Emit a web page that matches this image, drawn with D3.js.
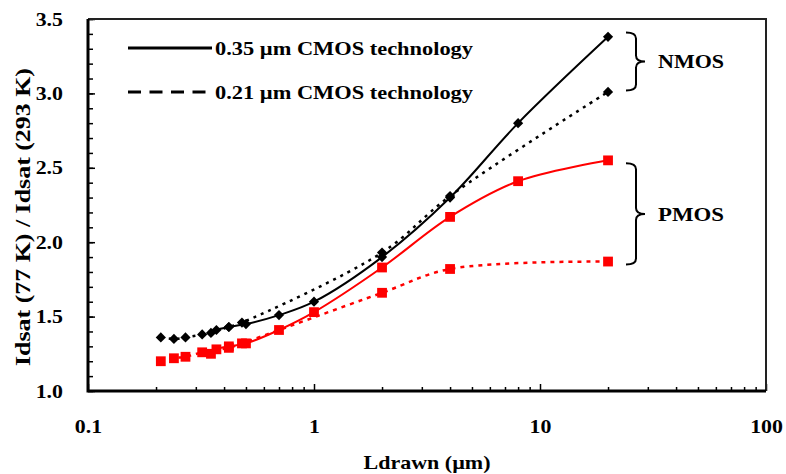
<!DOCTYPE html>
<html>
<head>
<meta charset="utf-8">
<script src="https://cdn.jsdelivr.net/npm/d3@7"></script>
<style>
  body { margin: 0; background: #fff; }
  text { font-family: "Liberation Serif", "Times New Roman", serif; font-weight: bold; fill: #000; }
</style>
</head>
<body>
<svg id="chart" width="786" height="474"></svg>
<script>
// L drawn (um) and Idsat(77K)/Idsat(293K)
const nmos035L = [0.35, 0.37, 0.42, 0.5, 0.7, 1, 2, 4, 8, 20];
const nmos035 = [1.39, 1.41, 1.43, 1.45, 1.51, 1.60, 1.90, 2.30, 2.80, 3.38];
const nmos021L = [0.21, 0.24, 0.27, 0.32, 0.42, 0.48, 2, 4, 20];
const nmos021 = [1.36, 1.35, 1.36, 1.38, 1.43, 1.46, 1.93, 2.31, 3.01];
const pmos035L = [0.35, 0.37, 0.42, 0.5, 0.7, 1, 2, 4, 8, 20];
const pmos035 = [1.25, 1.28, 1.30, 1.32, 1.41, 1.53, 1.83, 2.17, 2.41, 2.55];
const pmos021L = [0.21, 0.24, 0.27, 0.32, 0.42, 0.48, 2, 4, 20];
const pmos021 = [1.20, 1.22, 1.23, 1.26, 1.29, 1.32, 1.66, 1.82, 1.87];

const xTicks = [0.1, 1, 10, 100];
const yTicks = [1.0, 1.5, 2.0, 2.5, 3.0, 3.5];
const legendLabels = ["0.35 \u00b5m CMOS technology", "0.21 \u00b5m CMOS technology"];
// brace annotations: label, top value, bottom value
const braces = [["NMOS", 3.41, 3.02], ["PMOS", 2.53, 1.85]];

const plotL = 88, plotR = 766, plotT = 19, plotB = 391;
const svg = d3.select("#chart");

const x = d3.scaleLog().domain([0.1, 100]).range([plotL, plotR]);
const y = d3.scaleLinear().domain([1, 3.5]).range([plotB, plotT]);

// the original text looks stretched sideways a bit
function stretch(sel, k) {
    sel.each(function () {
        const len = this.getComputedTextLength();
        d3.select(this).attr("textLength", len * k).attr("lengthAdjust", "spacingAndGlyphs");
    });
}

// minor ticks
const xMinor = [];
[0.1, 1, 10].forEach(d => { for (let i = 2; i <= 9; i++) xMinor.push(d * i); });
svg.append("g")
    .attr("transform", "translate(0," + plotB + ")")
    .call(d3.axisBottom(x).tickValues(xMinor).tickSize(-4).tickFormat(""))
    .call(g => g.select(".domain").remove())
    .selectAll("line").attr("stroke-width", 1.5);

svg.append("g")
    .attr("transform", "translate(" + plotL + ",0)")
    .call(d3.axisLeft(y).tickValues(d3.range(10, 36).map(d => d / 10)).tickSize(-5).tickFormat(""))
    .call(g => g.select(".domain").remove())
    .selectAll("line").attr("stroke-width", 1.5);

// major ticks + labels
const xAxis = svg.append("g")
    .attr("transform", "translate(0," + plotB + ")")
    .call(d3.axisBottom(x).tickValues(xTicks).tickSize(-7).tickPadding(29).tickFormat(d => String(d)));
xAxis.select(".domain").remove();
xAxis.selectAll("line").attr("stroke-width", 1.5);
xAxis.attr("font-family", null).attr("font-size", null);
xAxis.selectAll("text").attr("font-size", 19).call(stretch, 1.15);

const yAxis = svg.append("g")
    .attr("transform", "translate(" + plotL + ",0)")
    .call(d3.axisLeft(y).tickValues(yTicks).tickSize(-7).tickPadding(25).tickFormat(d3.format(".1f")));
yAxis.select(".domain").remove();
yAxis.selectAll("line").attr("stroke-width", 1.5);
yAxis.attr("font-family", null).attr("font-size", null);
yAxis.selectAll("text").attr("font-size", 19).call(stretch, 1.15);

// frame
svg.append("path")
    .attr("d", "M" + plotL + "," + plotT + "H" + plotR + "V" + plotB)
    .attr("fill", "none").attr("stroke", "#222").attr("stroke-width", 2);
svg.append("path")
    .attr("d", "M" + plotL + "," + plotT + "V" + plotB + "H" + plotR)
    .attr("fill", "none").attr("stroke", "#000").attr("stroke-width", 3);

// series
const series = [
    { L: nmos021L, v: nmos021, color: "#000", dash: "3,5", marker: "diamond" },
    { L: pmos021L, v: pmos021, color: "#ff0000", dash: "4,5", marker: "square" },
    { L: nmos035L, v: nmos035, color: "#000", dash: null, marker: "diamond" },
    { L: pmos035L, v: pmos035, color: "#ff0000", dash: null, marker: "square" }
];

const lineMaker = d3.line()
    .x(d => x(d[0]))
    .y(d => y(d[1]))
    .curve(d3.curveCatmullRom.alpha(0.5));

series.forEach(s => {
    const pts = s.L.map((l, i) => [l, s.v[i]]);
    svg.append("path")
        .attr("d", lineMaker(pts))
        .attr("fill", "none")
        .attr("stroke", s.color)
        .attr("stroke-width", s.dash ? 2.5 : 2)
        .attr("stroke-dasharray", s.dash);
    const isDiamond = s.marker === "diamond";
    svg.append("g")
        .selectAll("path")
        .data(pts)
        .enter()
        .append("path")
        .attr("d", d3.symbol().type(d3.symbolSquare).size(isDiamond ? 52 : 96))
        .attr("transform", d => "translate(" + x(d[0]) + "," + y(d[1]) + ")" + (isDiamond ? " rotate(45)" : ""))
        .attr("fill", s.color);
});

// legend
const legY = [48, 92];
legendLabels.forEach((t, i) => {
    svg.append("line")
        .attr("x1", 128).attr("x2", 212)
        .attr("y1", legY[i]).attr("y2", legY[i])
        .attr("stroke", "#000").attr("stroke-width", 3)
        .attr("stroke-dasharray", i === 1 ? "13,8.5" : null);
    svg.append("text")
        .attr("x", 215).attr("y", legY[i]).attr("dy", "0.35em")
        .attr("font-size", 19)
        .attr("textLength", 258).attr("lengthAdjust", "spacingAndGlyphs")
        .text(t);
});

// braces
const bx0 = 626, bx1 = 636, btip = 645, r = 6;
braces.forEach(b => {
    const t = y(b[1]), bt = y(b[2]), m = (t + bt) / 2;
    svg.append("path")
        .attr("d", "M" + bx0 + "," + t +
            "Q" + bx1 + "," + t + " " + bx1 + "," + (t + r) +
            "V" + (m - r) +
            "Q" + bx1 + "," + m + " " + btip + "," + m +
            "Q" + bx1 + "," + m + " " + bx1 + "," + (m + r) +
            "V" + (bt - r) +
            "Q" + bx1 + "," + bt + " " + bx0 + "," + bt)
        .attr("fill", "none").attr("stroke", "#000").attr("stroke-width", 2);
    svg.append("text")
        .attr("x", 658).attr("y", m).attr("dy", "0.35em")
        .attr("font-size", 19)
        .attr("textLength", 66).attr("lengthAdjust", "spacingAndGlyphs")
        .text(b[0]);
});

// axis titles
svg.append("text")
    .attr("x", 427).attr("y", 462).attr("dy", "0.35em")
    .attr("text-anchor", "middle")
    .attr("font-size", 19)
    .attr("textLength", 127).attr("lengthAdjust", "spacingAndGlyphs")
    .text("Ldrawn (\u00b5m)");

svg.append("text")
    .attr("transform", "translate(23,217) rotate(-90)")
    .attr("dy", "0.35em")
    .attr("text-anchor", "middle")
    .attr("font-size", 20)
    .attr("textLength", 298).attr("lengthAdjust", "spacingAndGlyphs")
    .text("Idsat (77 K) / Idsat (293 K)");
</script>
</body>
</html>
